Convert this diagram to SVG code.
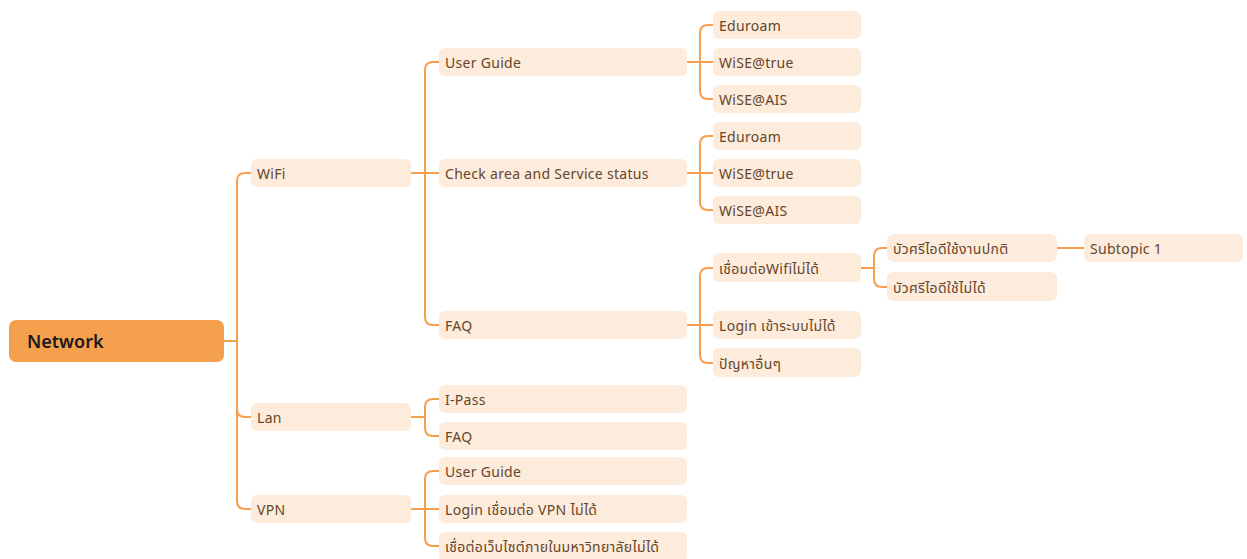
<svg xmlns="http://www.w3.org/2000/svg" width="1247" height="559" viewBox="0 0 1247 559">
<style>
.n rect{fill:#FDEBDC}
.n text{font-family:"Noto Sans","Noto Sans Thai","Noto Sans CJK SC",sans-serif;font-size:14px;letter-spacing:0.3px;fill:#66452A}
.c path{fill:none;stroke:#F5A04E;stroke-width:2}
</style>
<rect width="1247" height="559" fill="#FFFFFF"/>
<g class="c" id="connectors">
<path d="M224,341 H237"/>
<path d="M237,341 V181 Q237,173 245,173 H251"/>
<path d="M237,341 V409 Q237,417 245,417 H251"/>
<path d="M237,341 V501 Q237,509 245,509 H251"/>
<path d="M411,173 H439"/>
<path d="M425,173 V70 Q425,62 433,62 H439"/>
<path d="M425,173 V317 Q425,325 433,325 H439"/>
<path d="M411,417 H425"/>
<path d="M425,417 V407 Q425,399 433,399 H439"/>
<path d="M425,417 V428 Q425,436 433,436 H439"/>
<path d="M411,509 H439"/>
<path d="M425,509 V479 Q425,471 433,471 H439"/>
<path d="M425,509 V538 Q425,546 433,546 H439"/>
<path d="M687,62 H713"/>
<path d="M700,62 V33 Q700,25 708,25 H713"/>
<path d="M700,62 V91 Q700,99 708,99 H713"/>
<path d="M687,173 H713"/>
<path d="M700,173 V144 Q700,136 708,136 H713"/>
<path d="M700,173 V202 Q700,210 708,210 H713"/>
<path d="M687,325 H713"/>
<path d="M700,325 V276 Q700,268 708,268 H713"/>
<path d="M700,325 V355 Q700,363 708,363 H713"/>
<path d="M861,268 H874"/>
<path d="M874,268 V256 Q874,248 882,248 H887"/>
<path d="M874,268 V279 Q874,287 882,287 H887"/>
<path d="M1057,248 H1084"/>
</g>
<g id="root">
<rect x="9" y="320" width="215" height="42" rx="7" fill="#F5A04E"/>
<text x="27" y="348" font-family="'Noto Sans',sans-serif" font-size="18" font-weight="600" fill="#1A1A1A">Network</text>
</g>
<g class="n" id="wifi"><rect x="251" y="159" width="160" height="28" rx="6"/><text x="257" y="179">WiFi</text></g>
<g class="n" id="lan"><rect x="251" y="403" width="160" height="28" rx="6"/><text x="257" y="423">Lan</text></g>
<g class="n" id="vpn"><rect x="251" y="495" width="160" height="28" rx="6"/><text x="257" y="515">VPN</text></g>
<g class="n" id="wifi-guide"><rect x="439" y="48" width="248" height="28" rx="6"/><text x="445" y="68">User Guide</text></g>
<g class="n" id="wifi-check"><rect x="439" y="159" width="248" height="28" rx="6"/><text x="445" y="179">Check area and Service status</text></g>
<g class="n" id="wifi-faq"><rect x="439" y="311" width="248" height="28" rx="6"/><text x="445" y="331">FAQ</text></g>
<g class="n" id="lan-ipass"><rect x="439" y="385" width="248" height="28" rx="6"/><text x="445" y="405">I-Pass</text></g>
<g class="n" id="lan-faq"><rect x="439" y="422" width="248" height="28" rx="6"/><text x="445" y="442">FAQ</text></g>
<g class="n" id="vpn-guide"><rect x="439" y="457" width="248" height="28" rx="6"/><text x="445" y="477">User Guide</text></g>
<g class="n" id="vpn-login"><rect x="439" y="495" width="248" height="28" rx="6"/><text x="445" y="515">Login เชื่อมต่อ VPN ไม่ได้</text></g>
<g class="n" id="vpn-web"><rect x="439" y="532" width="248" height="30" rx="6"/><text x="445" y="552">เชื่อต่อเว็บไซต์ภายในมหาวิทยาลัยไม่ได้</text></g>
<g class="n" id="g1-eduroam"><rect x="713" y="11" width="148" height="28" rx="6"/><text x="719" y="31">Eduroam</text></g>
<g class="n" id="g1-true"><rect x="713" y="48" width="148" height="28" rx="6"/><text x="719" y="68">WiSE@true</text></g>
<g class="n" id="g1-ais"><rect x="713" y="85" width="148" height="28" rx="6"/><text x="719" y="105">WiSE@AIS</text></g>
<g class="n" id="g2-eduroam"><rect x="713" y="122" width="148" height="28" rx="6"/><text x="719" y="142">Eduroam</text></g>
<g class="n" id="g2-true"><rect x="713" y="159" width="148" height="28" rx="6"/><text x="719" y="179">WiSE@true</text></g>
<g class="n" id="g2-ais"><rect x="713" y="196" width="148" height="28" rx="6"/><text x="719" y="216">WiSE@AIS</text></g>
<g class="n" id="faq-wifi"><rect x="713" y="253" width="148" height="29" rx="6"/><text x="719" y="274">เชื่อมต่อWifiไม่ได้</text></g>
<g class="n" id="faq-login"><rect x="713" y="311" width="148" height="28" rx="6"/><text x="719" y="331">Login เข้าระบบไม่ได้</text></g>
<g class="n" id="faq-other"><rect x="713" y="348" width="148" height="29" rx="6"/><text x="719" y="369">ปัญหาอื่นๆ</text></g>
<g class="n" id="buasri-ok"><rect x="887" y="234" width="170" height="28" rx="6"/><text x="893" y="254">บัวศรีไอดีใช้งานปกติ</text></g>
<g class="n" id="buasri-fail"><rect x="887" y="272" width="170" height="29" rx="6"/><text x="893" y="293">บัวศรีไอดีใช้ไม่ได้</text></g>
<g class="n" id="subtopic"><rect x="1084" y="234" width="159" height="28" rx="6"/><text x="1090" y="254">Subtopic 1</text></g>
</svg>
